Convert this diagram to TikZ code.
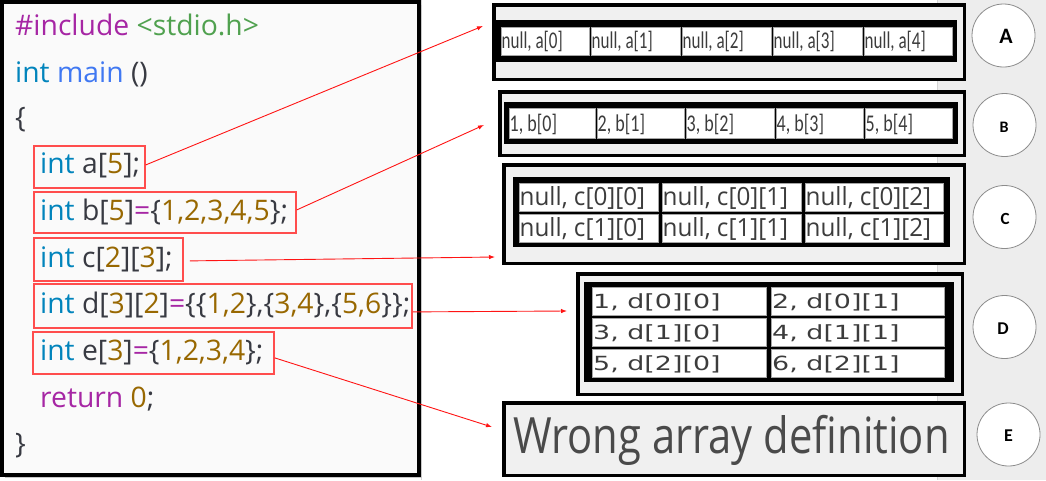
\documentclass[tikz,border=0pt]{standalone}
\usepackage{fontspec}
\usepackage{graphicx}
\setmainfont{Open Sans}
\newfontfamily\codefont{Open Sans}
\newfontfamily\narrowfont{Carlito}
\newfontfamily\widefont{DejaVu Sans}
\usetikzlibrary{arrows.meta,calc}

% One Light style syntax colours
\definecolor{kwc}{HTML}{0184BC}
\definecolor{fnc}{HTML}{4078F2}
\definecolor{ppc}{HTML}{A626A4}
\definecolor{strc}{HTML}{50A14F}
\definecolor{numc}{HTML}{986801}
\definecolor{txc}{HTML}{383A42}
\definecolor{panelc}{HTML}{FAFAFA}
\definecolor{boxc}{HTML}{F0F0F0}
\definecolor{sidec}{HTML}{EDEDED}
\definecolor{sidelinec}{HTML}{D4D4D4}
\definecolor{shadowc}{HTML}{C8C8C8}
\definecolor{hlc}{HTML}{FF4D4D}
\definecolor{linkc}{HTML}{FF1414}
\definecolor{cellc}{HTML}{3C3C3C}
\definecolor{bigc}{HTML}{4A4A4A}
\definecolor{ringc}{HTML}{8C8C8C}

\newcommand\kwd[1]{\textcolor{kwc}{#1}}
\newcommand\fnm[1]{\textcolor{fnc}{#1}}
\newcommand\ppd[1]{\textcolor{ppc}{#1}}
\newcommand\strd[1]{\textcolor{strc}{#1}}
\newcommand\numd[1]{\textcolor{numc}{#1}}
\newcommand\sqx[2]{\scalebox{#1}[1]{#2}}

\begin{document}
\begin{tikzpicture}[x=1pt,y=-1pt,
  codeline/.style={anchor=base west,inner sep=0pt,text=txc,
    font=\codefont\fontsize{28.3}{28.3}\selectfont},
  hlbox/.style={draw=hlc,line width=1.8pt,inner sep=0pt,anchor=north west},
  link/.style={draw=linkc,line width=0.9pt,-{Latex[length=6pt,width=4.5pt]}},
  framebox/.style={draw=black,line width=3.5pt,fill=boxc,inner sep=0pt},
  band/.style={fill=black},
  cell/.style={fill=white,draw=black!35,line width=0.4pt},
  txtA/.style={anchor=base west,inner sep=0pt,text=cellc,
    font=\narrowfont\fontsize{24}{24}\selectfont},
  txtC/.style={anchor=base west,inner sep=0pt,text=cellc,
    font=\codefont\fontsize{25}{25}\selectfont},
  txtD/.style={anchor=base west,inner sep=0pt,text=cellc,
    font=\widefont\fontsize{19.5}{19.5}\selectfont},
  ring/.style={circle,draw=ringc,line width=0.8pt,fill=white,minimum size=63pt,inner sep=0pt},
  ringlabel/.style={inner sep=0pt,text=black,font=\narrowfont\bfseries\fontsize{#1}{#1}\selectfont},
]
\useasboundingbox (0,0) rectangle (1046,480);

% page backgrounds
\fill[white] (0,0) rectangle (937,480);
\fill[sidec] (937,0) rectangle (1046,480);
\draw[sidelinec,line width=0.8pt] (937.5,0) -- (937.5,480);
\draw[sidelinec,line width=0.8pt] (421.5,0) -- (421.5,480);

% code editor panel
\fill[shadowc] (5,5) rectangle (422,478);
\draw[line width=3.5pt,fill=panelc] (1.75,1.75) rectangle (419,475);

\node[codeline] (l1) at (15,35) {\ppd{\#include} \strd{<stdio.h>}};
\node[codeline] (l2) at (15,82) {\kwd{int} \fnm{main} ()};
\node[codeline] (l3) at (15,127) {\{};
\node[codeline] (l4) at (40,173) {\kwd{int} a[\numd{5}];};
\node[codeline] (l5) at (40,220) {\kwd{int} b[\numd{5}]\ppd{=}\{\numd{1,2,3,4,5}\};};
\node[codeline] (l6) at (40,267) {\kwd{int} c[\numd{2}][\numd{3}];};
\node[codeline] (l7) at (40,313) {\kwd{int} d[\numd{3}][\numd{2}]\ppd{=}\{\{\numd{1,2}\},\{\numd{3,4}\},\{\numd{5,6}\}\};};
\node[codeline] (l8) at (40,360) {\kwd{int} e[\numd{3}]\ppd{=}\{\numd{1,2,3,4}\};};
\node[codeline] (l9) at (40,407) {\ppd{return} \numd{0};};
\node[codeline] (l10) at (15,453) {\}};

% highlighted declarations
\node[hlbox,minimum width=111pt,minimum height=42pt] (ra) at (33,145) {};
\node[hlbox,minimum width=262pt,minimum height=41pt] (rb) at (33,191) {};
\node[hlbox,minimum width=149pt,minimum height=43pt] (rc) at (33,237) {};
\node[hlbox,minimum width=378pt,minimum height=44pt] (rd) at (33,283) {};
\node[hlbox,minimum width=241pt,minimum height=42pt] (re) at (32,331) {};

% memory layout boxes
\node[framebox,minimum width=470.5pt,minimum height=74.5pt] (A) at (729,42) {};
\node[framebox,minimum width=464.5pt,minimum height=63.5pt] (B) at (732,123.5) {};
\node[framebox,minimum width=460.5pt,minimum height=98.5pt] (C) at (734,214) {};
\node[framebox,minimum width=384.5pt,minimum height=120.5pt] (D) at (770,334) {};
\node[framebox,minimum width=460.5pt,minimum height=72.5pt] (E) at (734,439) {};

% A: five uninitialised cells
\fill[band] (496,20) rectangle (957,62);
\foreach \x/\w [count=\i from 0] in {501/88,591/89,682/89,773/89,864/88}{
  \draw[cell] (\x,27) rectangle ++(\w,28);
  \node[txtA] (a\i) at (\x+0.5,48) {\sqx{0.71}{null, a[\i]}};
}
% B: five initialised cells
\fill[band] (504,102) rectangle (958,144);
\foreach \x/\w [count=\i from 0] in {509/86,597/87,686/88,776/87,865/87}{
  \pgfmathtruncatemacro\v{\i+1}
  \draw[cell] (\x,108) rectangle ++(\w,30);
  \node[txtA] (b\i) at (\x+0.5,131) {\sqx{0.75}{\v, b[\i]}};
}
% C: 2 x 3 cells
\fill[band] (513,177) rectangle (950,247);
\foreach \r/\y in {0/183,1/214}{
  \foreach \x/\w [count=\c from 0] in {519/139,662/139,805/138}{
    \draw[cell] (\x,\y) rectangle ++(\w,28);
    \node[txtC] (c\r\c) at (\x+0.5,\y+22) {\sqx{0.97}{null, c[\r][\c]}};
  }
}
% D: 3 x 2 cells
\fill[band] (584,282) rectangle (954,382);
\foreach \r/\y in {0/287,1/318,2/349}{
  \foreach \x/\w [count=\c from 0] in {592/174,771/173}{
    \pgfmathtruncatemacro\v{2*\r+\c+1}
    \draw[cell] (\x,\y) rectangle ++(\w,28);
    \node[txtD] (d\r\c) at (\x+1,\y+21) {\sqx{1.38}{\v, d[\r][\c]}};
  }
}
% E: error message
\node[anchor=base west,inner sep=0pt,text=bigc,font=\codefont\fontsize{50}{50}\selectfont]
  (msg) at (513,453) {\sqx{0.835}{Wrong array definition}};

% labels
\node[ring] (cA) at (1003.5,35.5) {};
\node[ring] (cB) at (1004.5,125) {};
\node[ring] (cC) at (1004.5,217) {};
\node[ring] (cD) at (1004.5,327) {};
\node[ring] (cE) at (1008.5,434.5) {};
\node[ringlabel=22] at (1006,36) {A};
\node[ringlabel=16] at (1004,127) {B};
\node[ringlabel=17] at (1005,219) {C};
\node[ringlabel=18] at (1003,329) {D};
\node[ringlabel=18] at (1008.5,436) {E};

% connectors from declarations to their layouts
\coordinate (tA) at (483,26);
\coordinate (tB) at (484,125);
\coordinate (tC) at (495,257);
\coordinate (tD) at (567,311);
\coordinate (tE) at (492,427);
\draw[link] ([yshift=2pt]ra.east) -- (tA);
\draw[link] ([yshift=2.5pt]rb.east) -- (tB);
\draw[link] ([xshift=6pt,yshift=-1.5pt]rc.east) -- (tC);
\draw[link] ([yshift=-6pt]rd.east) -- (tD);
\draw[link] ([yshift=-5pt]re.east) -- (tE);
\end{tikzpicture}
\end{document}
